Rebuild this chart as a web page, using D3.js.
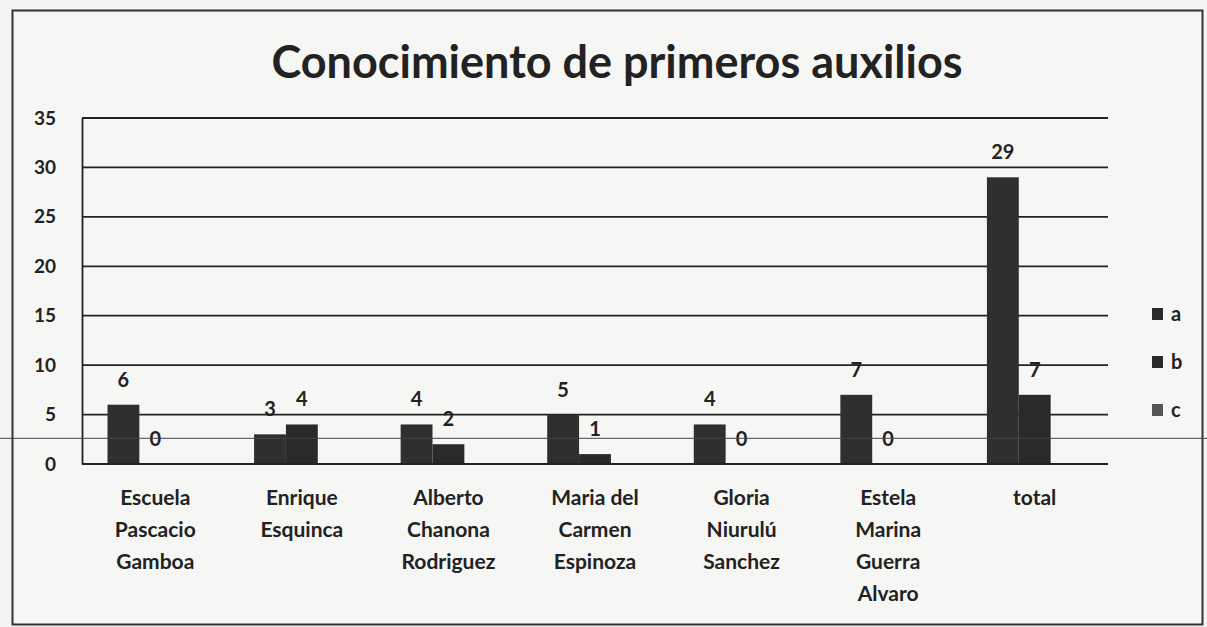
<!DOCTYPE html>
<html>
<head>
<meta charset="utf-8">
<script src="https://cdn.jsdelivr.net/npm/d3@7"></script>
<style>
  body { margin: 0; background: #f4f4f2; }
  text { font-family: Lato, "Open Sans", sans-serif; fill: #222; }
</style>
</head>
<body>
<div id="chart"></div>
<script>
// chart data
var categories = [
  ["Escuela", "Pascacio", "Gamboa"],
  ["Enrique", "Esquinca"],
  ["Alberto", "Chanona", "Rodriguez"],
  ["Maria del", "Carmen", "Espinoza"],
  ["Gloria", "Niurulú", "Sanchez"],
  ["Estela", "Marina", "Guerra", "Alvaro"],
  ["total"]
];
var seriesNames = ["a", "b", "c"];
var valuesA = [6, 3, 4, 5, 4, 7, 29];
var valuesB = [0, 4, 2, 1, 0, 0, 7];
var valuesC = [null, null, null, null, null, null, null];
var yTicks = [0, 5, 10, 15, 20, 25, 30, 35];

var svgWidth = 1207;
var svgHeight = 627;
var margin = { top: 118, left: 82, right: 99, bottom: 163 };
var width = svgWidth - margin.left - margin.right;
var height = svgHeight - margin.top - margin.bottom;

var svg = d3.select("#chart")
  .append("svg")
  .attr("width", svgWidth)
  .attr("height", svgHeight);

// outer frame
svg.append("rect")
  .attr("x", 12.5).attr("y", 10.5)
  .attr("width", 1190).attr("height", 614)
  .attr("fill", "#f6f6f4")
  .attr("stroke", "#333")
  .attr("stroke-width", 2);

svg.append("text")
  .attr("x", 617)
  .attr("y", 78)
  .attr("text-anchor", "middle")
  .attr("font-size", "45px")
  .attr("font-weight", "bold")
  .text("Conocimiento de primeros auxilios");

var chartGroup = svg.append("g")
  .attr("transform", `translate(${margin.left}, ${margin.top})`);

var x0 = d3.scaleBand()
  .domain(d3.range(categories.length))
  .range([0, width]);

var x1 = d3.scaleBand()
  .domain(seriesNames)
  .range([0, x0.bandwidth()])
  .paddingOuter(0.8);

var y = d3.scaleLinear()
  .domain([0, 35])
  .range([height, 0]);

// gridlines
chartGroup.append("g")
  .selectAll("line")
  .data(yTicks)
  .enter()
  .append("line")
  .attr("x1", 0)
  .attr("x2", width)
  .attr("y1", d => y(d))
  .attr("y2", d => y(d))
  .attr("stroke", "#222")
  .attr("stroke-width", 1.8);

// y axis
var yAxis = d3.axisLeft(y).tickValues(yTicks).tickSize(0).tickPadding(26);
var yAxisGroup = chartGroup.append("g").call(yAxis);
yAxisGroup.select(".domain").attr("stroke", "#222").attr("stroke-width", 1.8);
yAxisGroup.selectAll("text")
  .attr("font-size", "19px")
  .attr("font-weight", "bold")
  .attr("font-family", "Lato, sans-serif")
  .attr("fill", "#222");

// page line from the scan
svg.append("line")
  .attr("x1", 0).attr("x2", svgWidth)
  .attr("y1", margin.top + y(2.6)).attr("y2", margin.top + y(2.6))
  .attr("stroke", "#444")
  .attr("stroke-width", 1);

var rows = categories.map(function(c, i) {
  return { i: i, values: [valuesA[i], valuesB[i], valuesC[i]] };
});

var colors = { a: "#2f2f2f", b: "#2a2a2a", c: "#8a8a8a" };

var groups = chartGroup.selectAll(".cat")
  .data(rows)
  .enter()
  .append("g")
  .attr("transform", d => `translate(${x0(d.i)}, 0)`);

var barData = function(d) {
  return seriesNames.map(function(s, k) { return { s: s, v: d.values[k] }; });
};

groups.selectAll("rect")
  .data(barData)
  .enter()
  .append("rect")
  .filter(d => d.v !== null)
  .attr("x", d => x1(d.s))
  .attr("y", d => y(d.v))
  .attr("width", x1.bandwidth())
  .attr("height", d => height - y(d.v))
  .attr("fill", d => colors[d.s]);

groups.selectAll(".lbl")
  .data(barData)
  .enter()
  .append("text")
  .filter(d => d.v !== null)
  .attr("x", d => x1(d.s) + x1.bandwidth() / 2)
  .attr("y", d => y(d.v) - 18)
  .attr("text-anchor", "middle")
  .attr("font-size", "20px")
  .attr("font-weight", "bold")
  .text(d => d.v);

// baseline
chartGroup.append("line")
  .attr("x1", 0).attr("x2", width)
  .attr("y1", height).attr("y2", height)
  .attr("stroke", "#222")
  .attr("stroke-width", 2);

// category labels
var catLabels = chartGroup.selectAll(".catlbl")
  .data(categories)
  .enter()
  .append("text")
  .attr("x", (d, i) => x0(i) + x0.bandwidth() / 2)
  .attr("y", height + 41)
  .attr("text-anchor", "middle")
  .attr("font-size", "21px")
  .attr("font-weight", "bold");

catLabels.selectAll("tspan")
  .data(d => d)
  .enter()
  .append("tspan")
  .attr("x", function() { return d3.select(this.parentNode).attr("x"); })
  .attr("dy", (d, i) => i === 0 ? 0 : 32)
  .text(d => d);

// legend
var legend = svg.append("g")
  .attr("transform", "translate(1152, 314)");

var legendItems = legend.selectAll("g")
  .data(seriesNames)
  .enter()
  .append("g")
  .attr("transform", (d, i) => `translate(0, ${i * 48})`);

legendItems.append("rect")
  .attr("x", 0).attr("y", -6)
  .attr("width", 11).attr("height", 12)
  .attr("fill", d => d === "c" ? "#555" : "#2a2a2a");

legendItems.append("text")
  .attr("x", 19)
  .attr("y", 7)
  .attr("font-size", "20px")
  .attr("font-weight", "bold")
  .text(d => d);
</script>
</body>
</html>
